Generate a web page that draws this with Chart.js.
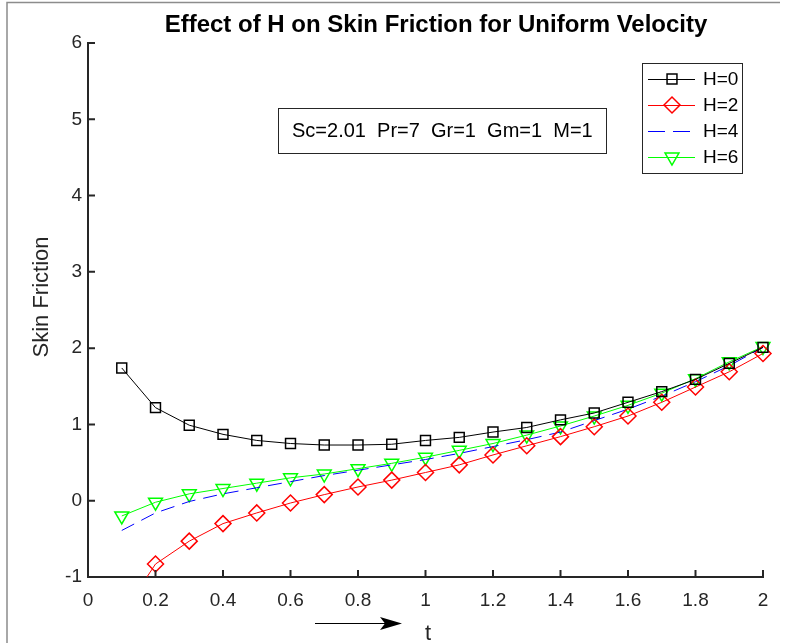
<!DOCTYPE html>
<html>
<head>
<meta charset="utf-8">
<title>Effect of H on Skin Friction</title>
<script src="https://cdn.jsdelivr.net/npm/chart.js@4/dist/chart.umd.min.js"></script>
<style>
  body { margin: 0; background: #fff; }
  canvas { display: block; }
</style>
</head>
<body>
<canvas id="chart" width="785" height="643"></canvas>
<script>
// data
const tValues = [0.1, 0.2, 0.3, 0.4, 0.5, 0.6, 0.7, 0.8, 0.9, 1.0, 1.1, 1.2, 1.3, 1.4, 1.5, 1.6, 1.7, 1.8, 1.9, 2.0];
const h0 = [1.74, 1.22, 0.99, 0.87, 0.79, 0.75, 0.73, 0.73, 0.74, 0.79, 0.83, 0.90, 0.96, 1.06, 1.15, 1.29, 1.43, 1.59, 1.80, 2.01];
const h2 = [-1.5, -0.83, -0.53, -0.30, -0.16, -0.03, 0.08, 0.18, 0.27, 0.37, 0.47, 0.60, 0.72, 0.84, 0.97, 1.11, 1.29, 1.49, 1.69, 1.93];
const h4 = [-0.39, -0.16, -0.01, 0.09, 0.17, 0.25, 0.33, 0.40, 0.47, 0.54, 0.62, 0.71, 0.80, 0.90, 1.05, 1.20, 1.37, 1.56, 1.77, 2.01];
const h6 = [-0.20, -0.02, 0.09, 0.16, 0.23, 0.30, 0.35, 0.42, 0.49, 0.57, 0.66, 0.75, 0.86, 0.98, 1.11, 1.25, 1.41, 1.60, 1.82, 2.02];
const seriesLabels = ['H=0', 'H=2', 'H=4', 'H=6'];
const xTicks = [0, 0.2, 0.4, 0.6, 0.8, 1, 1.2, 1.4, 1.6, 1.8, 2];
const yTicks = [-1, 0, 1, 2, 3, 4, 5, 6];
const titleText = 'Effect of H on Skin Friction for Uniform Velocity';
const noteText = 'Sc=2.01  Pr=7  Gr=1  Gm=1  M=1';

const FONT = '"Liberation Sans", Arial, sans-serif';
const AXIS = '#262626';

function pts(ys) {
  return tValues.map((t, i) => ({ x: t, y: ys[i] }));
}

const datasets = [
  {
    label: seriesLabels[0], data: pts(h0),
    borderColor: '#000000', borderWidth: 1,
    pointStyle: 'rect', pointRadius: 7, pointBorderWidth: 1.5,
    pointBorderColor: '#000000', pointBackgroundColor: 'rgba(0,0,0,0)'
  },
  {
    label: seriesLabels[1], data: pts(h2),
    borderColor: '#ff0000', borderWidth: 1,
    pointStyle: 'rectRot', pointRadius: 8, pointBorderWidth: 1.5,
    pointBorderColor: '#ff0000', pointBackgroundColor: 'rgba(0,0,0,0)'
  },
  {
    label: seriesLabels[2], data: pts(h4),
    borderColor: '#0000ff', borderWidth: 1, borderDash: [14, 8],
    pointRadius: 0
  },
  {
    label: seriesLabels[3], data: pts(h6),
    borderColor: '#00ff00', borderWidth: 1,
    pointStyle: 'triangle', pointRotation: 180, pointRadius: 8, pointBorderWidth: 1.5,
    pointBorderColor: '#00ff00', pointBackgroundColor: 'rgba(0,0,0,0)'
  }
];

// figure decorations: frame, inward ticks, title, labels, note box, arrow, legend
const decorations = {
  id: 'decorations',
  afterDraw(chart) {
    const ctx = chart.ctx;
    const area = chart.chartArea;
    const xs = chart.scales.x, ys = chart.scales.y;
    ctx.save();

    // figure frame
    ctx.strokeStyle = '#8c8c8c';
    ctx.lineWidth = 1.5;
    ctx.beginPath();
    ctx.moveTo(7, 643);
    ctx.lineTo(7, 2.5);
    ctx.lineTo(780, 2.5);
    ctx.stroke();

    // inward tick marks
    ctx.strokeStyle = AXIS;
    ctx.lineWidth = 2;
    ctx.beginPath();
    xTicks.forEach(v => {
      const x = xs.getPixelForValue(v);
      ctx.moveTo(x, area.bottom);
      ctx.lineTo(x, area.bottom - 7);
    });
    yTicks.forEach(v => {
      const y = ys.getPixelForValue(v);
      ctx.moveTo(area.left, y);
      ctx.lineTo(area.left + 7, y);
    });
    ctx.stroke();

    // title
    ctx.fillStyle = '#000';
    ctx.font = 'bold 24px ' + FONT;
    ctx.textAlign = 'center';
    ctx.textBaseline = 'alphabetic';
    ctx.fillText(titleText, 436, 32);

    // axis labels
    ctx.fillStyle = AXIS;
    ctx.font = '22px ' + FONT;
    ctx.save();
    ctx.translate(48, 297);
    ctx.rotate(-Math.PI / 2);
    ctx.fillText('Skin Friction', 0, 0);
    ctx.restore();
    ctx.fillText('t', 428, 640);

    // arrow next to the t label
    ctx.strokeStyle = '#000';
    ctx.fillStyle = '#000';
    ctx.lineWidth = 1;
    ctx.beginPath();
    ctx.moveTo(315, 623.5);
    ctx.lineTo(385, 623.5);
    ctx.stroke();
    ctx.beginPath();
    ctx.moveTo(402, 623.5);
    ctx.lineTo(380, 617);
    ctx.lineTo(385, 623.5);
    ctx.lineTo(380, 630);
    ctx.closePath();
    ctx.fill();

    // parameter note box
    ctx.fillStyle = '#fff';
    ctx.fillRect(278.5, 108.5, 328, 45);
    ctx.strokeStyle = AXIS;
    ctx.lineWidth = 1;
    ctx.strokeRect(278.5, 108.5, 328, 45);
    ctx.fillStyle = '#000';
    ctx.font = '20px ' + FONT;
    ctx.textAlign = 'left';
    ctx.textBaseline = 'middle';
    ctx.fillText(noteText, 292, 131);

    // legend
    ctx.fillStyle = '#fff';
    ctx.fillRect(642.5, 63.5, 100, 110);
    ctx.strokeStyle = AXIS;
    ctx.strokeRect(642.5, 63.5, 100, 110);
    chart.data.datasets.forEach((ds, i) => {
      const y = 79 + i * 26;
      ctx.strokeStyle = ds.borderColor;
      ctx.lineWidth = 1;
      ctx.setLineDash(ds.borderDash ? [17, 8] : []);
      ctx.beginPath();
      ctx.moveTo(648, y + 0.5);
      ctx.lineTo(695, y + 0.5);
      ctx.stroke();
      ctx.setLineDash([]);
      if (ds.pointRadius > 0) {
        ctx.strokeStyle = ds.pointBorderColor;
        ctx.fillStyle = 'rgba(0,0,0,0)';
        ctx.lineWidth = ds.pointBorderWidth;
        Chart.helpers.drawPoint(ctx, {
          pointStyle: ds.pointStyle,
          rotation: ds.pointRotation || 0,
          radius: ds.pointRadius,
          borderWidth: ds.pointBorderWidth
        }, 672, y);
      }
      ctx.fillStyle = '#000';
      ctx.font = '19px ' + FONT;
      ctx.textAlign = 'left';
      ctx.textBaseline = 'middle';
      ctx.fillText(ds.label, 703, y + 1);
    });

    ctx.restore();
  }
};

new Chart(document.getElementById('chart'), {
  type: 'line',
  data: { datasets: datasets },
  options: {
    responsive: false,
    animation: false,
    events: [],
    layout: { padding: { top: 43, right: 22, left: 0, bottom: 0 } },
    elements: { line: { tension: 0 } },
    datasets: { line: { clip: { left: 10, top: 10, right: 10, bottom: 0 } } },
    plugins: {
      legend: { display: false },
      tooltip: { enabled: false },
      title: { display: false }
    },
    scales: {
      x: {
        type: 'linear', min: 0, max: 2,
        afterBuildTicks: s => { s.ticks = xTicks.map(v => ({ value: v })); },
        afterFit: s => { s.height = 66; },
        grid: { display: false, drawTicks: false },
        border: { display: true, color: AXIS, width: 2 },
        ticks: {
          color: AXIS, padding: 12, maxRotation: 0, autoSkip: false,
          font: { family: FONT, size: 19 },
          callback: v => String(v)
        }
      },
      y: {
        type: 'linear', min: -1, max: 6,
        afterBuildTicks: s => { s.ticks = yTicks.map(v => ({ value: v })); },
        afterFit: s => { s.width = 88; },
        grid: { display: false, drawTicks: false },
        border: { display: true, color: AXIS, width: 2 },
        ticks: {
          color: AXIS, padding: 6,
          font: { family: FONT, size: 19 },
          callback: v => String(v)
        }
      }
    }
  },
  plugins: [decorations]
});
</script>
</body>
</html>
